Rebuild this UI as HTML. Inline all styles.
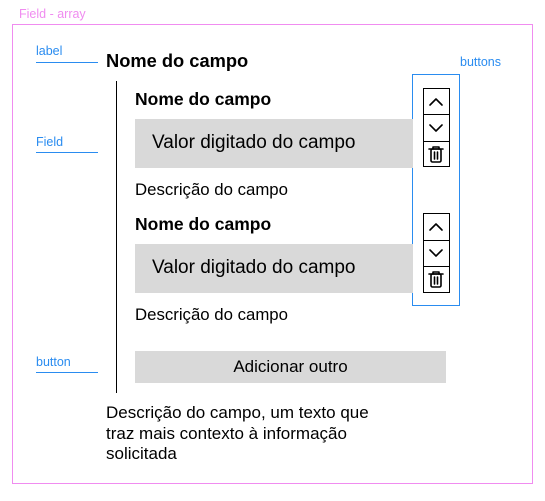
<!DOCTYPE html>
<html><head><style>
body{margin:0;width:545px;height:501px;background:#fff;position:relative;font-family:"Liberation Sans",sans-serif;overflow:hidden}
.a{position:absolute;white-space:nowrap;line-height:20px}
.ann{color:#2a8cf0;font-size:12.5px}
.ln{position:absolute;height:1px;background:#2a8cf0;width:62px;left:36px}
.b{font-weight:bold;color:#000}
.grey{position:absolute;background:#d9d9d9}
</style></head><body>
<div class="a" style="left:19px;top:4px;font-size:12.5px;color:#f08cf0">Field - array</div>
<div style="position:absolute;left:12px;top:24px;width:519px;height:458px;border:1px solid #f08cf0"></div>
<div class="a ann" style="left:36px;top:41px">label</div><div class="ln" style="top:62px"></div>
<div class="a ann" style="left:36px;top:132px">Field</div><div class="ln" style="top:152px"></div>
<div class="a ann" style="left:36px;top:352px">button</div><div class="ln" style="top:372px"></div>
<div class="a ann" style="left:460px;top:52px">buttons</div>
<div style="position:absolute;left:412px;top:74px;width:46px;height:230px;border:1px solid #2a8cf0"></div>
<div class="a b" style="left:106px;top:51px;font-size:18.3px">Nome do campo</div>
<div style="position:absolute;left:116px;top:81px;width:1px;height:312px;background:#000"></div>
<div class="a b" style="left:135px;top:89px;font-size:17.5px">Nome do campo</div>
<div class="grey" style="left:135px;top:119px;width:278px;height:49px"></div>
<div class="a" style="left:152px;top:133px;font-size:19px">Valor digitado do campo</div>
<div class="a" style="left:135px;top:180px;font-size:16.8px">Descrição do campo</div>
<div class="a b" style="left:135px;top:214px;font-size:17.5px">Nome do campo</div>
<div class="grey" style="left:135px;top:244px;width:278px;height:49px"></div>
<div class="a" style="left:152px;top:258px;font-size:19px">Valor digitado do campo</div>
<div class="a" style="left:135px;top:305px;font-size:16.8px">Descrição do campo</div>
<div class="grey" style="left:135px;top:351px;width:311px;height:32px"></div>
<div class="a" style="left:135px;top:357px;width:311px;text-align:center;font-size:17px">Adicionar outro</div>
<div class="a" style="left:106px;top:403px;font-size:17px;line-height:20.5px">Descrição do campo, um texto que<br>traz mais contexto à informação<br>solicitada</div>
<svg width="545" height="501" style="position:absolute;left:0;top:0">
<g fill="none" stroke="#000" stroke-width="1">
<rect x="423.5" y="88.5" width="26" height="78"/><line x1="423" y1="114.5" x2="450" y2="114.5"/><line x1="423" y1="141.5" x2="450" y2="141.5"/>
<rect x="423.5" y="213.5" width="26" height="79"/><line x1="423" y1="240.5" x2="450" y2="240.5"/><line x1="423" y1="266.5" x2="450" y2="266.5"/>
</g>
<g fill="none" stroke="#000" stroke-width="1.6" stroke-linecap="round" stroke-linejoin="round">
<polyline points="430,105 436,99 442,105"/><polyline points="430,125 436,131 442,125"/>
<polyline points="430,230 436,224 442,230"/><polyline points="430,250 436,256 442,250"/>
<g id="t"><line x1="429" y1="149" x2="443" y2="149"/><path d="M433,149v-2h6v2"/><rect x="431" y="149" width="10" height="13" rx="1.5"/><line x1="434.5" y1="152" x2="434.5" y2="159"/><line x1="437.5" y1="152" x2="437.5" y2="159"/></g>
<use href="#t" y="125"/>
</g>
</svg>
</body></html>
